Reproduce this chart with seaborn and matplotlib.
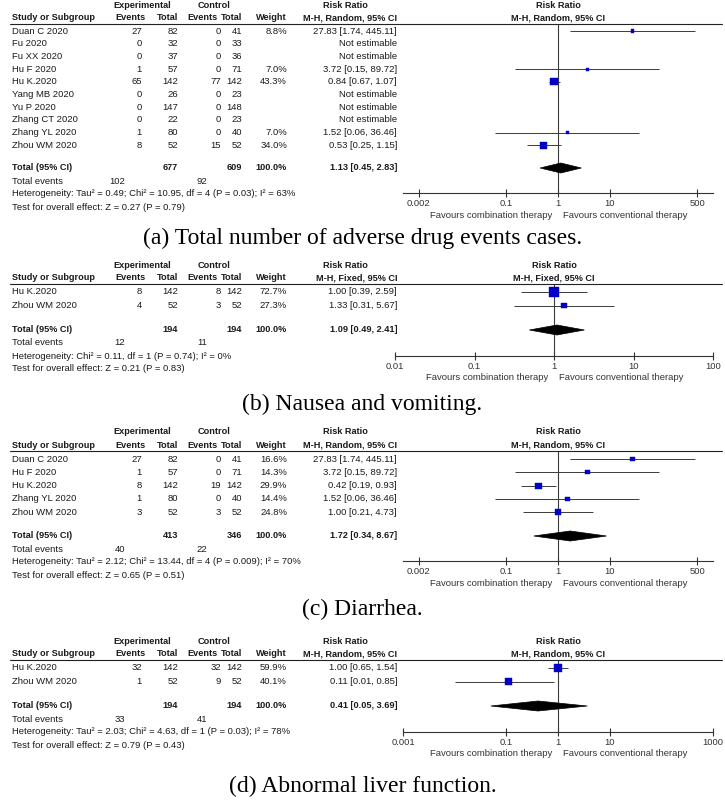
import numpy as np
import pandas as pd
import matplotlib
matplotlib.use("Agg")
import matplotlib.pyplot as plt
from matplotlib.lines import Line2D
from matplotlib.patches import Polygon
from matplotlib.ticker import FixedLocator, FixedFormatter, NullLocator
import seaborn as sns

# ---------------- data ----------------
# (a) Total number of adverse drug events cases
studies_a = ["Duan C 2020", "Fu 2020", "Fu XX 2020", "Hu F 2020", "Hu K.2020",
             "Yang MB 2020", "Yu P 2020", "Zhang CT 2020", "Zhang YL 2020", "Zhou WM 2020"]
exp_events_a = [27, 0, 0, 1, 65, 0, 0, 0, 1, 8]
exp_total_a = [82, 32, 37, 57, 142, 26, 147, 22, 80, 52]
ctl_events_a = [0, 0, 0, 0, 77, 0, 0, 0, 0, 15]
ctl_total_a = [41, 33, 36, 71, 142, 23, 148, 23, 40, 52]
weight_a = [8.8, np.nan, np.nan, 7.0, 43.3, np.nan, np.nan, np.nan, 7.0, 34.0]
rr_a = [27.83, np.nan, np.nan, 3.72, 0.84, np.nan, np.nan, np.nan, 1.52, 0.53]
lo_a = [1.74, np.nan, np.nan, 0.15, 0.67, np.nan, np.nan, np.nan, 0.06, 0.25]
hi_a = [445.11, np.nan, np.nan, 89.72, 1.07, np.nan, np.nan, np.nan, 36.46, 1.15]
total_a = [1.13, 0.45, 2.83]
method_a = "M-H, Random, 95% CI"
het_a = "Heterogeneity: Tau\u00b2 = 0.49; Chi\u00b2 = 10.95, df = 4 (P = 0.03); I\u00b2 = 63%"
test_a = "Test for overall effect: Z = 0.27 (P = 0.79)"
ticks_a = [0.002, 0.1, 1, 10, 500]
ticklabels_a = ["0.002", "0.1", "1", "10", "500"]
caption_a = "(a) Total number of adverse drug events cases."

# (b) Nausea and vomiting
studies_b = ["Hu K.2020", "Zhou WM 2020"]
exp_events_b = [8, 4]
exp_total_b = [142, 52]
ctl_events_b = [8, 3]
ctl_total_b = [142, 52]
weight_b = [72.7, 27.3]
rr_b = [1.00, 1.33]
lo_b = [0.39, 0.31]
hi_b = [2.59, 5.67]
total_b = [1.09, 0.49, 2.41]
method_b = "M-H, Fixed, 95% CI"
het_b = "Heterogeneity: Chi\u00b2 = 0.11, df = 1 (P = 0.74); I\u00b2 = 0%"
test_b = "Test for overall effect: Z = 0.21 (P = 0.83)"
ticks_b = [0.01, 0.1, 1, 10, 100]
ticklabels_b = ["0.01", "0.1", "1", "10", "100"]
caption_b = "(b) Nausea and vomiting."

# (c) Diarrhea
studies_c = ["Duan C 2020", "Hu F 2020", "Hu K.2020", "Zhang YL 2020", "Zhou WM 2020"]
exp_events_c = [27, 1, 8, 1, 3]
exp_total_c = [82, 57, 142, 80, 52]
ctl_events_c = [0, 0, 19, 0, 3]
ctl_total_c = [41, 71, 142, 40, 52]
weight_c = [16.6, 14.3, 29.9, 14.4, 24.8]
rr_c = [27.83, 3.72, 0.42, 1.52, 1.00]
lo_c = [1.74, 0.15, 0.19, 0.06, 0.21]
hi_c = [445.11, 89.72, 0.93, 36.46, 4.73]
total_c = [1.72, 0.34, 8.67]
method_c = "M-H, Random, 95% CI"
het_c = "Heterogeneity: Tau\u00b2 = 2.12; Chi\u00b2 = 13.44, df = 4 (P = 0.009); I\u00b2 = 70%"
test_c = "Test for overall effect: Z = 0.65 (P = 0.51)"
ticks_c = [0.002, 0.1, 1, 10, 500]
ticklabels_c = ["0.002", "0.1", "1", "10", "500"]
caption_c = "(c) Diarrhea."

# (d) Abnormal liver function
studies_d = ["Hu K.2020", "Zhou WM 2020"]
exp_events_d = [32, 1]
exp_total_d = [142, 52]
ctl_events_d = [32, 9]
ctl_total_d = [142, 52]
weight_d = [59.9, 40.1]
rr_d = [1.00, 0.11]
lo_d = [0.65, 0.01]
hi_d = [1.54, 0.85]
total_d = [0.41, 0.05, 3.69]
method_d = "M-H, Random, 95% CI"
het_d = "Heterogeneity: Tau\u00b2 = 2.03; Chi\u00b2 = 4.63, df = 1 (P = 0.03); I\u00b2 = 78%"
test_d = "Test for overall effect: Z = 0.79 (P = 0.43)"
ticks_d = [0.001, 0.1, 1, 10, 1000]
ticklabels_d = ["0.001", "0.1", "1", "10", "1000"]
caption_d = "(d) Abnormal liver function."

# ---------------- style ----------------
sns.set_theme(style="white")
plt.rcParams['font.family'] = ['Liberation Sans', 'DejaVu Sans']

W, H = 725, 810
fig = plt.figure(figsize=(W / 100, H / 100), dpi=100)
fig.patch.set_facecolor("white")

FS = 6.8      # regular text
FSB = 6.6     # bold header text
TXT = "#1a1a1a"
MARK = "#0000c8"


def fx(x):
    return x / W


def fy(y):
    return 1 - y / H


def T(x, y, s, ha="left", bold=False, size=None, color=TXT, family=None):
    kw = {}
    if family is not None:
        kw["family"] = family
    if size is None:
        size = FSB if bold else FS
    fig.text(fx(x), fy(y), s, ha=ha, va="center", fontsize=size,
             fontweight="bold" if bold else "normal", color=color, **kw)


def fmt_rr(r, l, h):
    if np.isnan(r):
        return "Not estimable"
    return f"{r:.2f} [{l:.2f}, {h:.2f}]"


def panel(lay, studies, ee, et, ce, ct, wt, rr, lo, hi, tot, method, het, test,
          ticks, ticklabels, caption):
    h1, h2, ul = lay["h1"], lay["h2"], lay["ul"]
    row0, step, ty, axy = lay["row0"], lay["step"], lay["total"], lay["axis"]
    axl, axr, dec = lay["axl"], lay["axr"], lay["dec"]
    xone = (axl + axr) / 2

    # table headers
    T(142, h1, "Experimental", ha="center", bold=True)
    T(214, h1, "Control", ha="center", bold=True)
    T(345, h1, "Risk Ratio", ha="center", bold=True)
    T(xone, h1, "Risk Ratio", ha="center", bold=True)
    T(12, h2, "Study or Subgroup", bold=True)
    T(145, h2, "Events", ha="right", bold=True)
    T(178, h2, "Total", ha="right", bold=True)
    T(217, h2, "Events", ha="right", bold=True)
    T(242, h2, "Total", ha="right", bold=True)
    T(287, h2, "Weight", ha="right", bold=True)
    T(397, h2, method, ha="right", bold=True)
    T(xone, h2, method, ha="center", bold=True)
    fig.add_artist(Line2D([fx(10), fx(722)], [fy(ul), fy(ul)], color="#222", lw=0.8))

    ypos = [row0 + i * step for i in range(len(studies))]
    for i, s in enumerate(studies):
        y = ypos[i]
        T(12, y, s)
        T(142, y, str(ee[i]), ha="right")
        T(178, y, str(et[i]), ha="right")
        T(221, y, str(ce[i]), ha="right")
        T(242, y, str(ct[i]), ha="right")
        if not np.isnan(wt[i]):
            T(287, y, f"{wt[i]:.1f}%", ha="right")
        T(397, y, fmt_rr(rr[i], lo[i], hi[i]), ha="right")

    T(12, ty, "Total (95% CI)", bold=True)
    T(178, ty, str(sum(et)), ha="right", bold=True)
    T(242, ty, str(sum(ct)), ha="right", bold=True)
    T(287, ty, "100.0%", ha="right", bold=True)
    T(397, ty, fmt_rr(*tot), ha="right", bold=True)
    T(12, ty + 13, "Total events")
    T(125, ty + 13, str(sum(ee)), ha="right")
    T(207, ty + 13, str(sum(ce)), ha="right")
    T(12, ty + 26, het)
    T(12, ty + 39, test)

    # forest plot
    ax = fig.add_axes([fx(axl), fy(axy), (axr - axl) / W, (axy - ul) / H])
    ax.patch.set_visible(False)
    df = pd.DataFrame({"y": ypos, "rr": rr, "lo": lo, "hi": hi, "w": wt}).dropna()
    ax.hlines(df["y"], df["lo"], df["hi"], color="#3a3a3a", lw=0.7, zorder=2)
    wmin, wmax = df["w"].min(), df["w"].max()
    k = 0.65
    sns.scatterplot(data=df, x="rr", y="y", size="w", sizes=(k * wmin, k * wmax),
                    size_norm=(wmin, wmax), marker="s", color=MARK, edgecolor=MARK,
                    linewidth=0.3, legend=False, ax=ax, zorder=3)
    est, dl, dh = tot
    ax.add_patch(Polygon([(dl, ty), (est, ty - 5), (dh, ty), (est, ty + 5)],
                         closed=True, facecolor="black", edgecolor="black", lw=0.5, zorder=4))
    ax.axvline(1, color="#3a3a3a", lw=0.8, zorder=1)
    ax.set_xscale("log")
    ax.set_xlim(10 ** (-dec), 10 ** dec)
    ax.set_ylim(axy, ul)
    for sp in ["top", "left", "right"]:
        ax.spines[sp].set_visible(False)
    ax.spines["bottom"].set_color("#333")
    ax.spines["bottom"].set_linewidth(0.8)
    ax.xaxis.set_major_locator(FixedLocator(ticks))
    ax.xaxis.set_major_formatter(FixedFormatter(ticklabels))
    ax.xaxis.set_minor_locator(NullLocator())
    ax.tick_params(axis="x", direction="inout", length=6, width=0.8, labelsize=FS,
                   pad=1.5, colors="#333", bottom=True)
    ax.set_yticks([])
    ax.set_xlabel("")
    ax.set_ylabel("")
    T(xone - 6, axy + 22, "Favours combination therapy", ha="right", color="#333")
    T(xone + 5, axy + 22, "Favours conventional therapy", ha="left", color="#333")

    # caption
    T(362.5, lay["caption"], caption, ha="center", size=17, color="black",
      family=["Liberation Serif", "DejaVu Serif"])


lay_a = dict(h1=6, h2=18, ul=24, row0=31, step=12.7, total=168, axis=193, caption=238,
             axl=403, axr=713, dec=3)
lay_b = dict(h1=265, h2=278, ul=284, row0=292, step=13.5, total=330, axis=356, caption=404,
             axl=395, axr=713, dec=2)
lay_c = dict(h1=432, h2=445, ul=451, row0=459, step=13.3, total=536, axis=561, caption=609,
             axl=403, axr=713, dec=3)
lay_d = dict(h1=641, h2=654, ul=660, row0=668, step=13.5, total=706, axis=732, caption=786,
             axl=403, axr=713, dec=3)

panel(lay_a, studies_a, exp_events_a, exp_total_a, ctl_events_a, ctl_total_a, weight_a,
      rr_a, lo_a, hi_a, total_a, method_a, het_a, test_a, ticks_a, ticklabels_a, caption_a)
panel(lay_b, studies_b, exp_events_b, exp_total_b, ctl_events_b, ctl_total_b, weight_b,
      rr_b, lo_b, hi_b, total_b, method_b, het_b, test_b, ticks_b, ticklabels_b, caption_b)
panel(lay_c, studies_c, exp_events_c, exp_total_c, ctl_events_c, ctl_total_c, weight_c,
      rr_c, lo_c, hi_c, total_c, method_c, het_c, test_c, ticks_c, ticklabels_c, caption_c)
panel(lay_d, studies_d, exp_events_d, exp_total_d, ctl_events_d, ctl_total_d, weight_d,
      rr_d, lo_d, hi_d, total_d, method_d, het_d, test_d, ticks_d, ticklabels_d, caption_d)

fig.savefig("out.png", dpi=100)
